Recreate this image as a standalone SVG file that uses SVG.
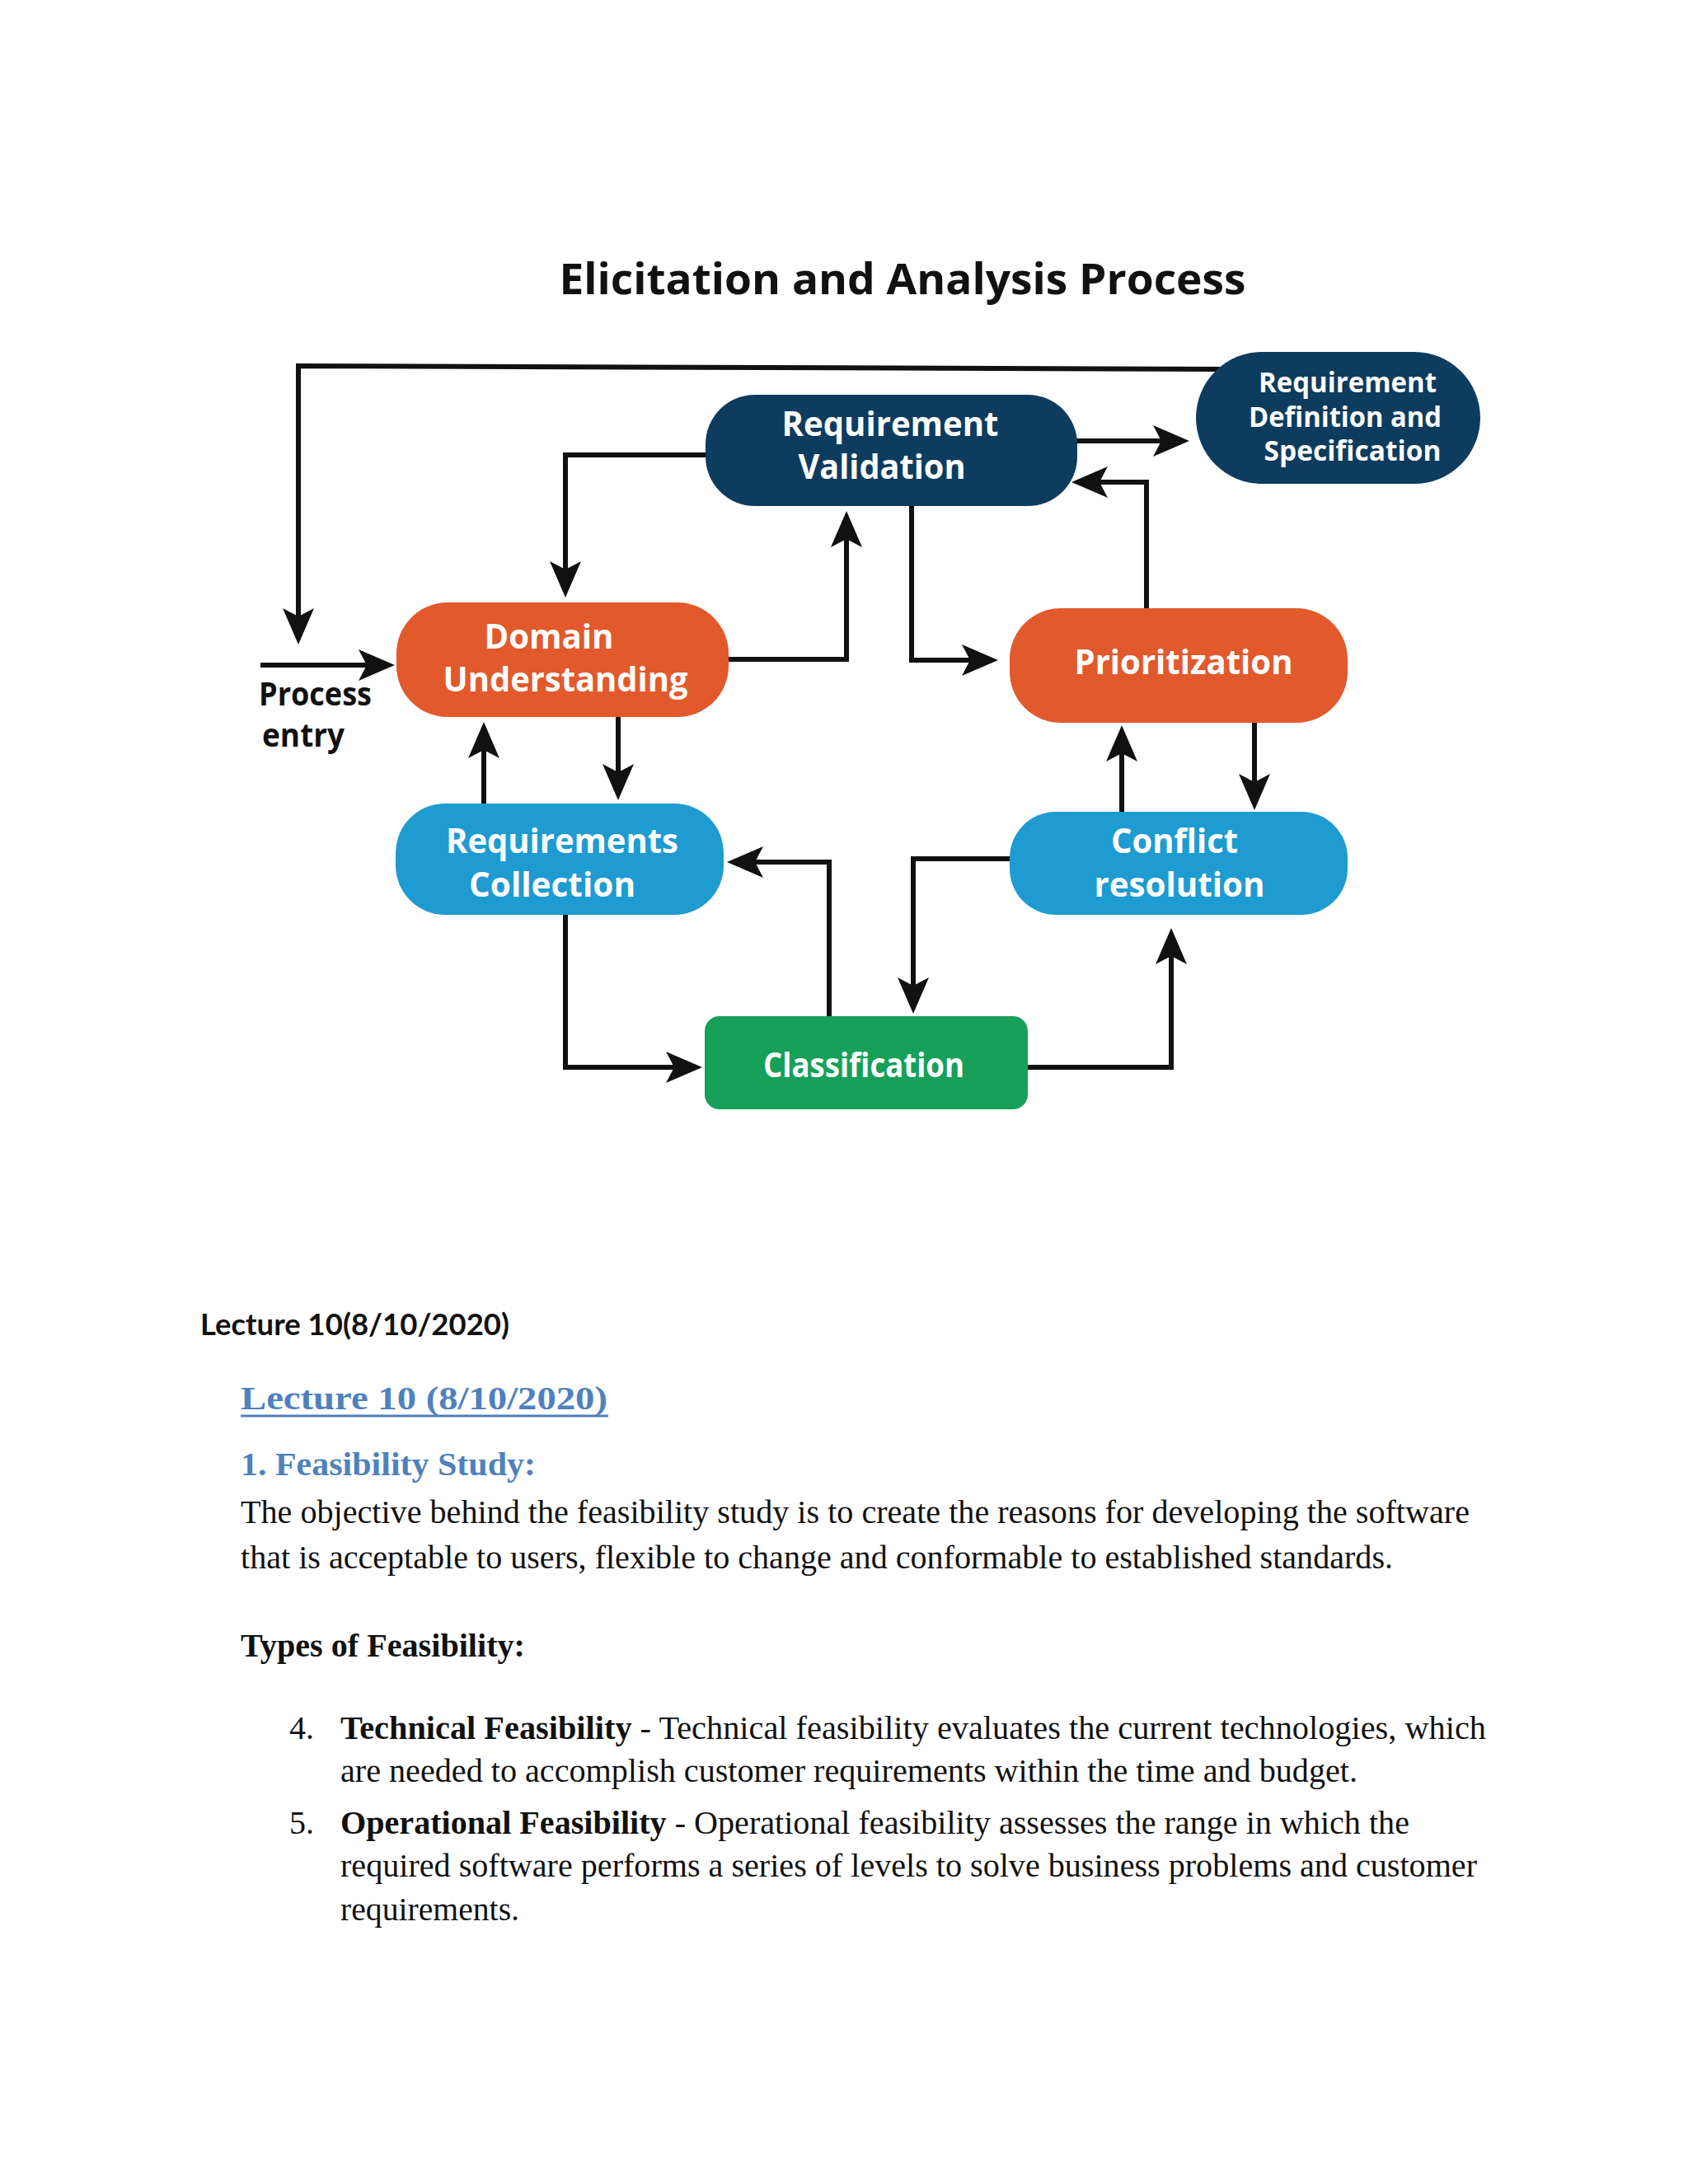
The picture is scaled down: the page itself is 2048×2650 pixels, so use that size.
<svg xmlns="http://www.w3.org/2000/svg" width="2048" height="2650" viewBox="0 0 2048 2650">
<style>
.conn{fill:none;stroke:#111;stroke-width:6;stroke-linejoin:miter}
.nt{font-family:"Open Sans","DejaVu Sans",sans-serif;font-weight:700;fill:#fff;text-anchor:middle}
.n42{font-size:42px}
.n34{font-size:34px}
.lbl{font-family:"Open Sans","DejaVu Sans",sans-serif;font-weight:700;fill:#111}
.serif{font-family:"Liberation Serif","Times New Roman",serif;font-size:40px;fill:#111}
.blue{fill:#4f81bd;font-weight:700}
.navy{fill:#0e3c5e}
.orange{fill:#e2592b}
.sky{fill:#1e9bd0}
.green{fill:#17a058}
</style>
<defs>
<marker id="ah" viewBox="-40 -22 50 44" refX="0" refY="0" markerWidth="50" markerHeight="44" markerUnits="userSpaceOnUse" orient="auto">
<path d="M7,0 L-37,-19 L-27,0 L-37,19 Z" fill="#111"/>
</marker>
</defs>
<rect x="0" y="0" width="2048" height="2650" fill="#ffffff"/>

<text id="title" x="1095" y="357" class="lbl" font-size="52" font-weight="800" text-anchor="middle" textLength="833" lengthAdjust="spacingAndGlyphs">Elicitation and Analysis Process</text>

<g id="connectors">
<path class="conn" d="M1485,448 L362,444 L362,775" marker-end="url(#ah)"/>
<path class="conn" d="M316,807 L472,807" marker-end="url(#ah)"/>
<path class="conn" d="M858,552 L686,552 L686,718" marker-end="url(#ah)"/>
<path class="conn" d="M882,800 L1027,800 L1027,627" marker-end="url(#ah)"/>
<path class="conn" d="M1106,614 L1106,801 L1204,801" marker-end="url(#ah)"/>
<path class="conn" d="M1391,740 L1391,585 L1307,585" marker-end="url(#ah)"/>
<path class="conn" d="M1305,535 L1436,535" marker-end="url(#ah)"/>
<path class="conn" d="M587,977 L587,883" marker-end="url(#ah)"/>
<path class="conn" d="M750,868 L750,964" marker-end="url(#ah)"/>
<path class="conn" d="M1006,1235 L1006,1046 L889,1046" marker-end="url(#ah)"/>
<path class="conn" d="M1228,1042 L1108,1042 L1108,1223" marker-end="url(#ah)"/>
<path class="conn" d="M686,1108 L686,1295 L845,1295" marker-end="url(#ah)"/>
<path class="conn" d="M1245,1295 L1421,1295 L1421,1133" marker-end="url(#ah)"/>
<path class="conn" d="M1361,987 L1361,887" marker-end="url(#ah)"/>
<path class="conn" d="M1522,875 L1522,976" marker-end="url(#ah)"/>
</g>

<g id="process-entry">
<text x="314" y="856" class="lbl" font-size="40" textLength="137" lengthAdjust="spacingAndGlyphs">Process</text>
<text x="318" y="906" class="lbl" font-size="40" textLength="100" lengthAdjust="spacingAndGlyphs">entry</text>
</g>

<g id="requirement-validation">
<rect x="856" y="479" width="451" height="135" rx="60" ry="60" class="navy"/>
<text x="1080" y="529" class="nt n42" textLength="263" lengthAdjust="spacingAndGlyphs">Requirement</text>
<text x="1070" y="581" class="nt n42" textLength="203" lengthAdjust="spacingAndGlyphs">Validation</text>
</g>

<g id="requirement-definition">
<rect x="1451" y="427" width="345" height="160" rx="80" ry="80" class="navy"/>
<text x="1635" y="476" class="nt n34" textLength="216" lengthAdjust="spacingAndGlyphs">Requirement</text>
<text x="1632" y="518" class="nt n34" textLength="234" lengthAdjust="spacingAndGlyphs">Definition and</text>
<text x="1641" y="559" class="nt n34" textLength="215" lengthAdjust="spacingAndGlyphs">Specification</text>
</g>

<g id="domain-understanding">
<rect x="481" y="731" width="403" height="139" rx="62" ry="62" class="orange"/>
<text x="666" y="787" class="nt n42" textLength="157" lengthAdjust="spacingAndGlyphs">Domain</text>
<text x="686" y="839" class="nt n42" textLength="297" lengthAdjust="spacingAndGlyphs">Understanding</text>
</g>

<g id="prioritization">
<rect x="1225" y="738" width="410" height="139" rx="62" ry="62" class="orange"/>
<text x="1436" y="818" class="nt n42" textLength="265" lengthAdjust="spacingAndGlyphs">Prioritization</text>
</g>

<g id="requirements-collection">
<rect x="480" y="975" width="398" height="135" rx="60" ry="60" class="sky"/>
<text x="682" y="1035" class="nt n42" textLength="282" lengthAdjust="spacingAndGlyphs">Requirements</text>
<text x="670" y="1088" class="nt n42" textLength="202" lengthAdjust="spacingAndGlyphs">Collection</text>
</g>

<g id="conflict-resolution">
<rect x="1225" y="985" width="410" height="125" rx="56" ry="56" class="sky"/>
<text x="1425" y="1035" class="nt n42" textLength="154" lengthAdjust="spacingAndGlyphs">Conflict</text>
<text x="1431" y="1088" class="nt n42" textLength="207" lengthAdjust="spacingAndGlyphs">resolution</text>
</g>

<g id="classification">
<rect x="855" y="1233" width="392" height="113" rx="18" ry="18" class="green"/>
<text x="1048" y="1307" class="nt n42" textLength="244" lengthAdjust="spacingAndGlyphs">Classification</text>
</g>

<g id="document-text">
<text x="243" y="1620" font-family="Lato,'Open Sans',sans-serif" font-weight="700" font-size="37" fill="#111" textLength="375" lengthAdjust="spacingAndGlyphs">Lecture 10(8/10/2020)</text>
<text x="292" y="1710" class="serif blue" textLength="445" lengthAdjust="spacingAndGlyphs">Lecture 10 (8/10/2020)</text>
<line x1="292" y1="1718" x2="738" y2="1718" stroke="#4f81bd" stroke-width="3"/>
<text x="292" y="1790" class="serif blue" textLength="358" lengthAdjust="spacingAndGlyphs">1. Feasibility Study:</text>
<text x="292" y="1848" class="serif" textLength="1491" lengthAdjust="spacingAndGlyphs">The objective behind the feasibility study is to create the reasons for developing the software</text>
<text x="292" y="1903" class="serif" textLength="1398" lengthAdjust="spacingAndGlyphs">that is acceptable to users, flexible to change and conformable to established standards.</text>
<text x="292" y="2010" class="serif" font-weight="700" textLength="345" lengthAdjust="spacingAndGlyphs">Types of Feasibility:</text>
<text x="351" y="2110" class="serif">4.</text>
<text x="413" y="2110" class="serif" textLength="1390" lengthAdjust="spacingAndGlyphs"><tspan font-weight="700">Technical Feasibility</tspan> - Technical feasibility evaluates the current technologies, which</text>
<text x="413" y="2162" class="serif" textLength="1234" lengthAdjust="spacingAndGlyphs">are needed to accomplish customer requirements within the time and budget.</text>
<text x="351" y="2225" class="serif">5.</text>
<text x="413" y="2225" class="serif" textLength="1297" lengthAdjust="spacingAndGlyphs"><tspan font-weight="700">Operational Feasibility</tspan> - Operational feasibility assesses the range in which the</text>
<text x="413" y="2277" class="serif" textLength="1379" lengthAdjust="spacingAndGlyphs">required software performs a series of levels to solve business problems and customer</text>
<text x="413" y="2330" class="serif" textLength="217" lengthAdjust="spacingAndGlyphs">requirements.</text>
</g>
</svg>
